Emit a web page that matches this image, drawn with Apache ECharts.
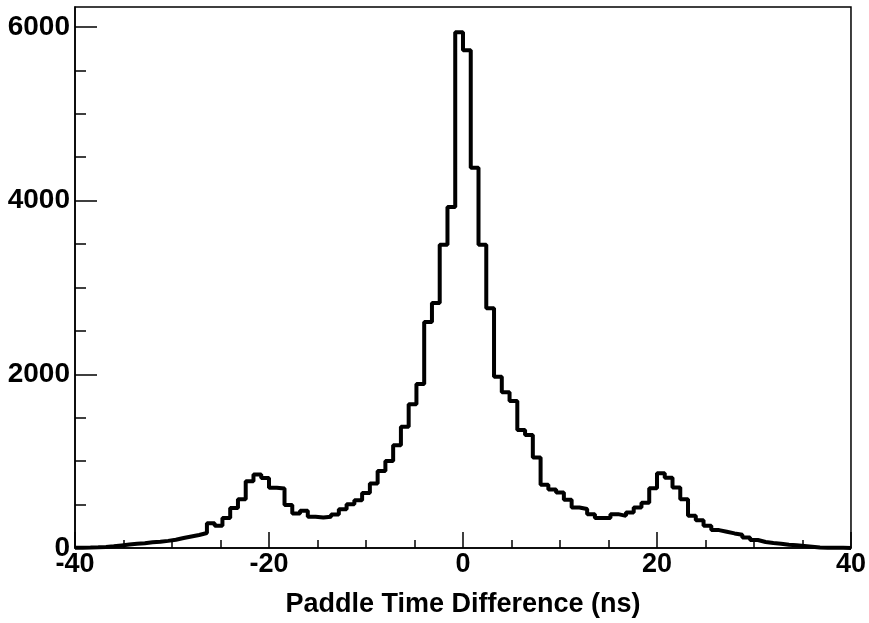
<!DOCTYPE html>
<html>
<head>
<meta charset="utf-8">
<script src="https://cdn.jsdelivr.net/npm/echarts@6/dist/echarts.min.js"></script>
<style>
html,body{margin:0;padding:0;background:#fff;}
#chart{width:869px;height:623px;}
</style>
</head>
<body>
<div id="chart"></div>
<script>
// Histogram: 100 bins of 0.8 ns from -40 to 40 ns
const binLow = -40;
const binWidth = 0.8;
const counts = [
  3, 5, 8, 12, 20, 30, 40, 48, 55, 65,
  72, 82, 95, 115, 133, 150, 172, 285, 255, 345,
  460, 562, 770, 845, 805, 695, 685, 495, 398, 428,
  360, 350, 360, 385, 445, 505, 550, 632, 742, 888,
  1002, 1183, 1395, 1655, 1890, 2603, 2820, 3492, 3926, 5940,
  5731, 4380, 3492, 2761, 1972, 1795, 1693, 1360, 1302, 1041,
  727, 674, 639, 557, 466, 449, 390, 345, 345, 390,
  370, 408, 465, 520, 688, 862, 808, 698, 562, 370,
  321, 256, 206, 187, 168, 153, 122, 92, 69, 57,
  50, 38, 31, 23, 15, 5, 3, 2, 2, 1
];
const xTickLabels = [-40, -20, 0, 20, 40];
const yMajorTicks = [0, 2000, 4000, 6000];
const yMinorTicks = [500, 1000, 1500, 2500, 3000, 3500, 4500, 5000, 5500];
const xTitle = 'Paddle Time Difference (ns)';

const stepData = counts.map((v, i) => [binLow + binWidth * i, v]);
stepData.push([binLow + binWidth * counts.length, counts[counts.length - 1]]);

const FONT = "'Liberation Sans', Arial, Helvetica, sans-serif";
const chart = echarts.init(document.getElementById('chart'), null, {renderer: 'canvas'});
chart.setOption({
  animation: false,
  backgroundColor: '#fff',
  grid: {left: 75, right: 16, top: 7, bottom: 73, show: true, borderColor: '#000', borderWidth: 1.5, backgroundColor: 'transparent'},
  xAxis: {
    type: 'value', min: -40, max: 40, interval: 20,
    name: xTitle, nameLocation: 'middle', nameGap: 43,
    nameTextStyle: {fontFamily: FONT, fontWeight: 'bold', fontSize: 27, color: '#000'},
    axisLine: {show: true, onZero: false, lineStyle: {color: '#000', width: 1.5}},
    axisTick: {show: true, inside: true, length: 16, lineStyle: {color: '#000', width: 1.5}},
    minorTick: {show: true, splitNumber: 4, length: 8, lineStyle: {color: '#000', width: 1.5}},
    splitLine: {show: false},
    axisLabel: {fontFamily: FONT, fontWeight: 'bold', fontSize: 27, color: '#000', margin: 3,
      customValues: xTickLabels, formatter: v => String(v)}
  },
  yAxis: [{
    type: 'value', min: 0, max: 6230, position: 'left',
    axisLine: {show: true, onZero: false, lineStyle: {color: '#000', width: 1.5}},
    axisTick: {show: true, inside: true, length: 22, customValues: yMajorTicks, lineStyle: {color: '#000', width: 1.5}},
    splitLine: {show: false},
    axisLabel: {fontFamily: FONT, fontWeight: 'bold', fontSize: 28, color: '#000', margin: 5,
      customValues: yMajorTicks, formatter: v => String(v)}
  }, {
    type: 'value', min: 0, max: 6230, position: 'left', offset: 0,
    axisLine: {show: false, onZero: false},
    axisTick: {show: true, inside: true, length: 11, customValues: yMinorTicks, lineStyle: {color: '#000', width: 1.5}},
    splitLine: {show: false},
    axisLabel: {show: false}
  }],
  series: [{
    type: 'line', step: 'end', data: stepData, showSymbol: false, symbol: 'none',
    lineStyle: {color: '#000', width: 4}, silent: true, clip: true
  }]
});
</script>
</body>
</html>
